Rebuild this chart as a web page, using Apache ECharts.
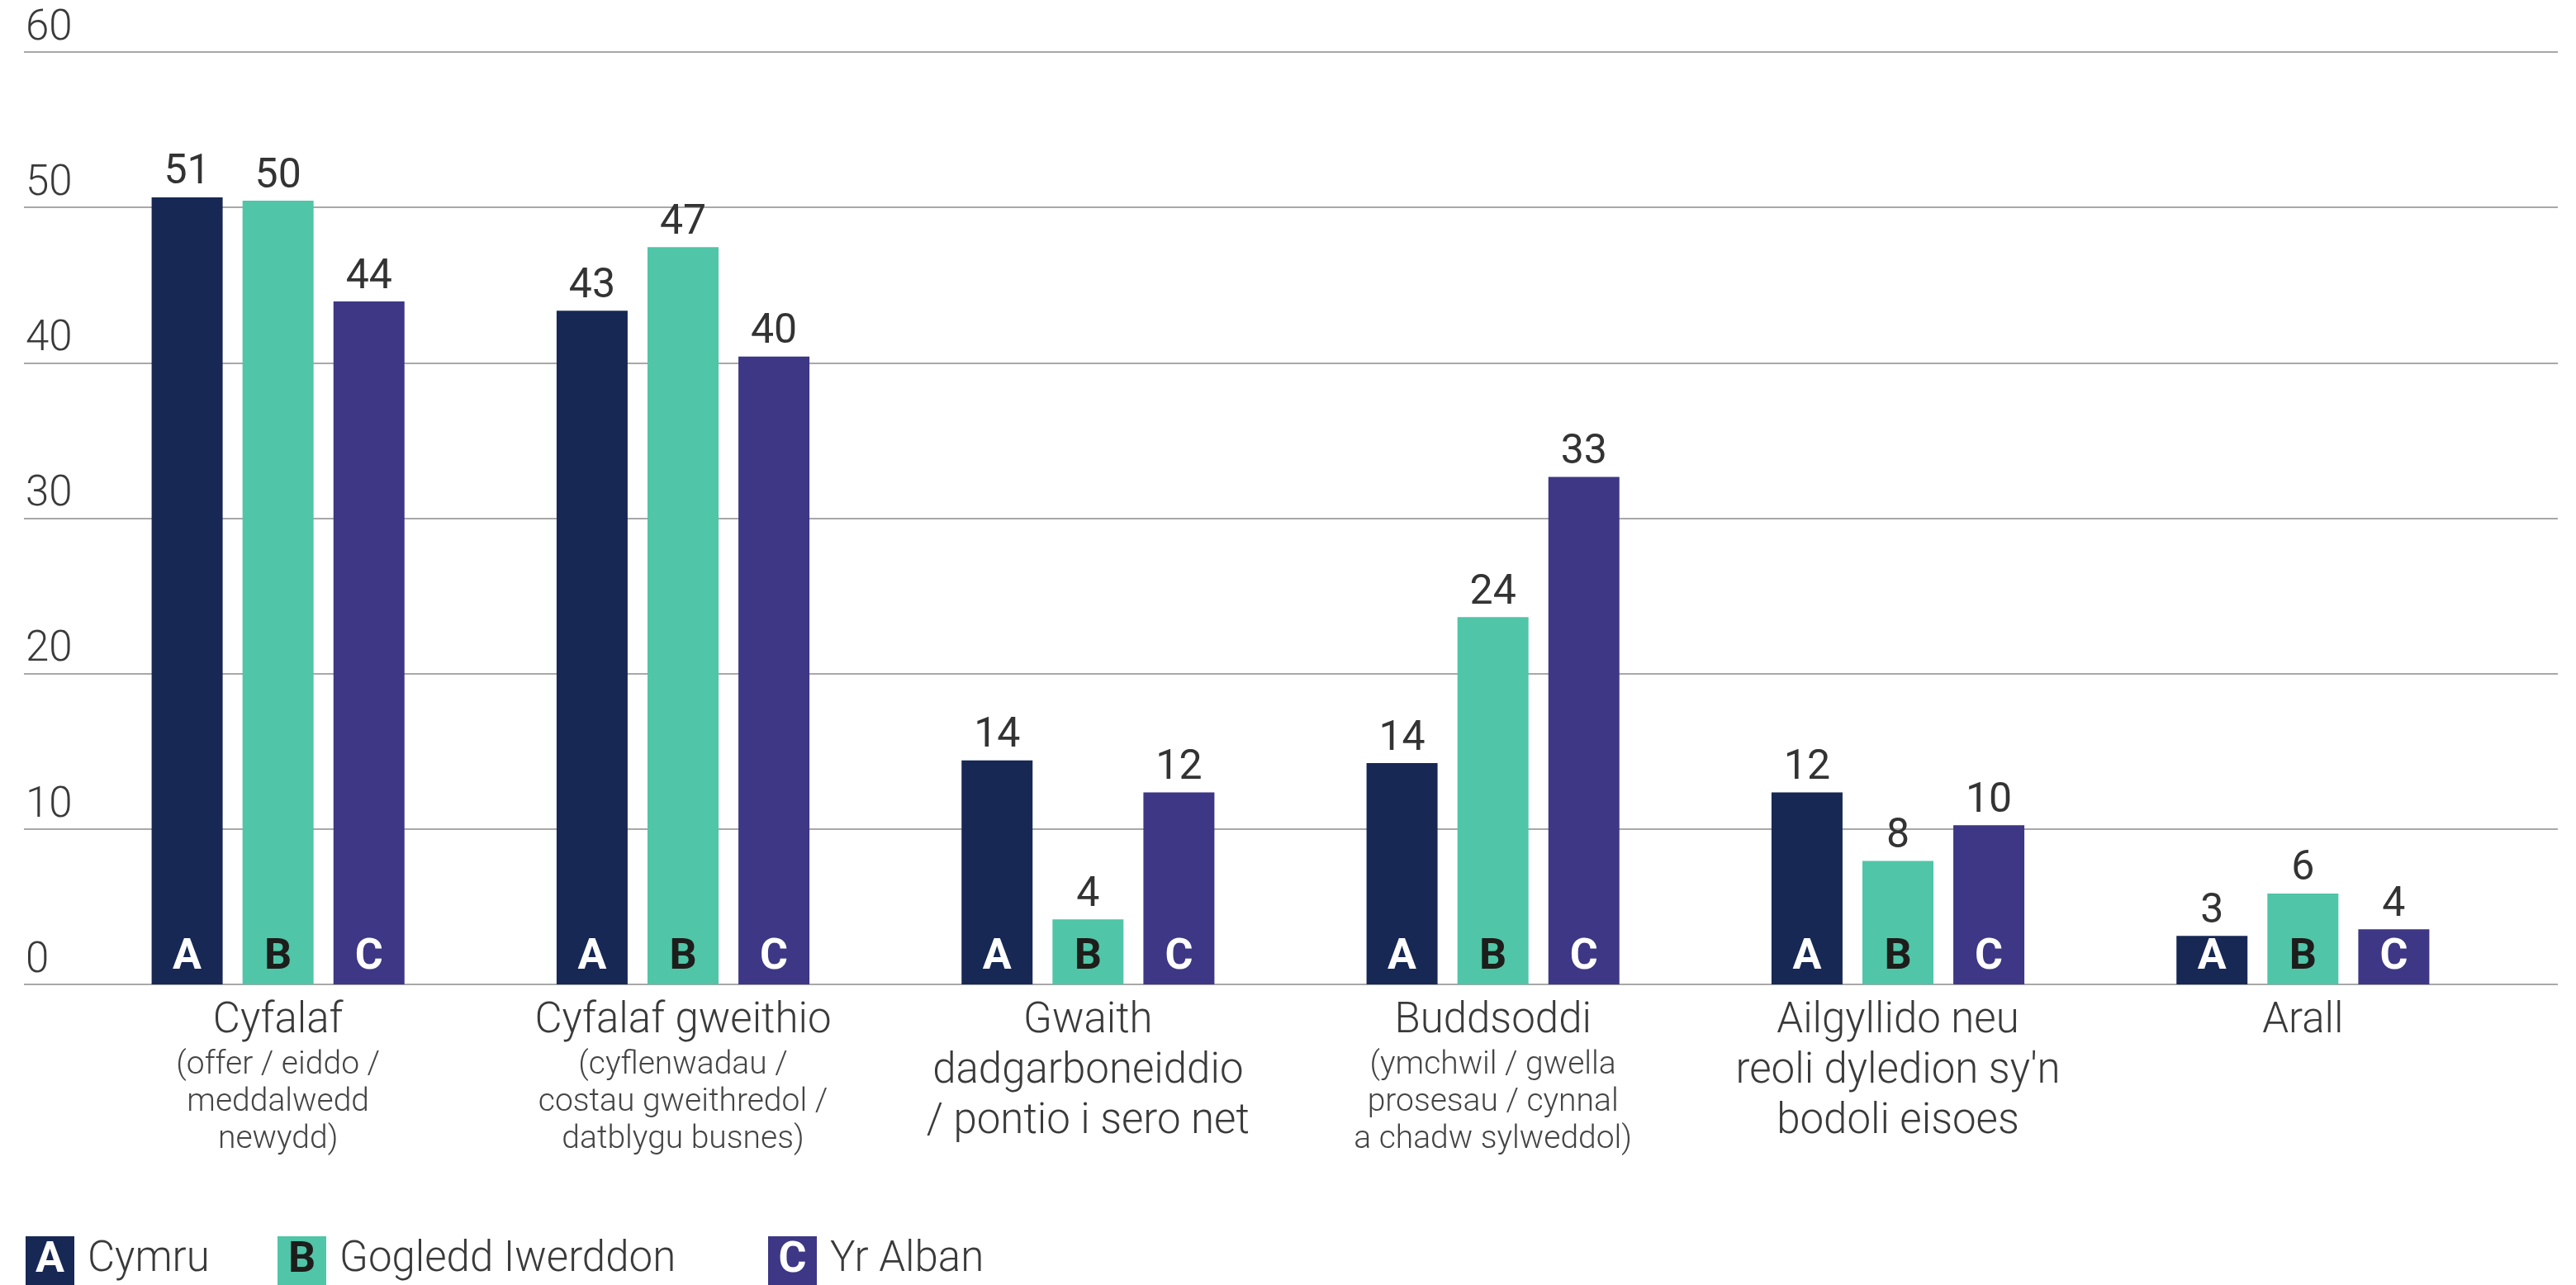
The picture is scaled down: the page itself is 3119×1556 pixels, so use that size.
<!DOCTYPE html>
<html>
<head>
<meta charset="utf-8">
<script src="https://cdn.jsdelivr.net/npm/echarts@6/dist/echarts.min.js"></script>
<style>
html,body{margin:0;padding:0;background:#fff;}
#chart{width:3119px;height:1556px;}
</style>
</head>
<body>
<div id="chart"></div>
<script>
// ---- data ----
var categories = ['Cyfalaf', 'Cyfalaf gweithio', 'Gwaith dadgarboneiddio / pontio i sero net', 'Buddsoddi', "Ailgyllido neu reoli dyledion sy'n bodoli eisoes", 'Arall'];
var categoryTitleLines = [
  ['Cyfalaf'],
  ['Cyfalaf gweithio'],
  ['Gwaith', 'dadgarboneiddio', '/ pontio i sero net'],
  ['Buddsoddi'],
  ['Ailgyllido neu', "reoli dyledion sy'n", 'bodoli eisoes'],
  ['Arall']
];
var categorySubLines = [
  ['(offer / eiddo /', 'meddalwedd', 'newydd)'],
  ['(cyflenwadau /', 'costau gweithredol /', 'datblygu busnes)'],
  [],
  ['(ymchwil / gwella', 'prosesau / cynnal', 'a chadw sylweddol)'],
  [],
  []
];
var seriesNames = ['Cymru', 'Gogledd Iwerddon', 'Yr Alban'];
var seriesLetters = ['A', 'B', 'C'];
var cymru   = [50.65, 43.35, 14.42, 14.24, 12.35, 3.12];
var gogledd = [50.43, 47.45, 4.19, 23.64, 7.94, 5.85];
var alban   = [43.95, 40.40, 12.36, 32.66, 10.24, 3.55];
var yMin = 0, yMax = 60, yStep = 10;

// ---- styles ----
var colors = ['#172854', '#50c5a7', '#3d3785'];
var letterColors = ['#ffffff', '#1d1d1b', '#ffffff'];
var FONT = 'Roboto';
var textColor = '#3a3a3a';
var values = [cymru, gogledd, alban];

var BAR_W = 86, BAR_GAP = '28%';

function catFormatter(value, idx) {
  var parts = [];
  categoryTitleLines[idx].forEach(function (l) { parts.push('{t|' + l + '}'); });
  categorySubLines[idx].forEach(function (l) { parts.push('{s|' + l + '}'); });
  return parts.join('\n');
}

var series = [];
values.forEach(function (arr, i) {
  series.push({
    name: seriesNames[i],
    type: 'bar',
    xAxisIndex: 1,
    yAxisIndex: 1,
    data: arr,
    barWidth: BAR_W,
    barGap: BAR_GAP,
    itemStyle: { color: colors[i] },
    label: {
      show: true,
      position: 'top',
      distance: 4,
      fontFamily: FONT,
      fontSize: 50,
      lineHeight: 50,
      color: '#333333',
      formatter: function (p) { return Math.round(p.value); }
    },
    emphasis: { disabled: true }
  });
});
values.forEach(function (arr, i) {
  series.push({
    name: seriesNames[i] + ' letter',
    type: 'bar',
    xAxisIndex: 2,
    yAxisIndex: 1,
    data: arr,
    barWidth: BAR_W,
    barGap: BAR_GAP,
    silent: true,
    itemStyle: { color: 'rgba(0,0,0,0)' },
    label: {
      show: true,
      position: 'insideBottom',
      distance: 6,
      fontFamily: FONT,
      fontWeight: 'bold',
      fontSize: 52,
      lineHeight: 52,
      color: letterColors[i],
      formatter: seriesLetters[i]
    },
    emphasis: { disabled: true }
  });
});

function makeLegend(i, left) {
  var rich = {
    box: {
      backgroundColor: colors[i],
      color: letterColors[i],
      fontFamily: FONT,
      fontWeight: 'bold',
      fontSize: 52,
      width: 59,
      height: 59,
      lineHeight: 59,
      align: 'center'
    },
    txt: {
      fontFamily: FONT,
      fontWeight: 300,
      fontSize: 51,
      color: textColor,
      padding: [0, 0, 0, 16],
      lineHeight: 59
    }
  };
  return {
    show: true,
    data: [seriesNames[i]],
    left: left,
    top: 1497,
    padding: 0,
    itemWidth: 0,
    itemHeight: 0,
    icon: 'rect',
    selectedMode: false,
    formatter: function (name) { return '{box|' + seriesLetters[i] + '}{txt|' + name + '}'; },
    textStyle: { rich: rich, padding: 0 }
  };
}

var option = {
  animation: false,
  backgroundColor: '#ffffff',
  legend: [makeLegend(0, 26), makeLegend(1, 331), makeLegend(2, 925)],
  grid: [
    { left: 29, right: 22, top: 63, bottom: 364, containLabel: false },
    { left: 91.5, right: 85.5, top: 63, bottom: 364, containLabel: false }
  ],
  xAxis: [
    { type: 'value', gridIndex: 0, min: 0, max: 1, show: false },
    {
      type: 'category', gridIndex: 1, data: categories,
      axisLine: { show: false }, axisTick: { show: false }, splitLine: { show: false },
      axisLabel: {
        interval: 0,
        margin: 15,
        formatter: catFormatter,
        align: 'center',
        verticalAlign: 'top',
        rich: {
          t: { fontFamily: FONT, fontWeight: 300, fontSize: 51, lineHeight: 61, color: textColor, align: 'center' },
          s: { fontFamily: FONT, fontWeight: 300, fontSize: 39, lineHeight: 45, color: '#444444', align: 'center' }
        }
      }
    },
    { type: 'category', gridIndex: 1, data: categories, show: false }
  ],
  yAxis: [
    {
      type: 'value', gridIndex: 0, min: yMin, max: yMax, interval: yStep,
      axisLine: { show: false }, axisTick: { show: false },
      splitLine: { show: true, lineStyle: { color: '#a8a8a8', width: 2 } },
      axisLabel: {
        inside: true,
        margin: 2,
        align: 'left',
        verticalAlign: 'bottom',
        fontFamily: FONT,
        fontWeight: 300,
        fontSize: 51,
        lineHeight: 50,
        padding: [0, 0, 3, 0],
        color: textColor
      }
    },
    { type: 'value', gridIndex: 1, min: yMin, max: yMax, interval: yStep, show: false, splitLine: { show: false } }
  ],
  series: series
};

var chart = echarts.init(document.getElementById('chart'), null, { renderer: 'canvas' });
chart.setOption(option);
</script>
</body>
</html>
